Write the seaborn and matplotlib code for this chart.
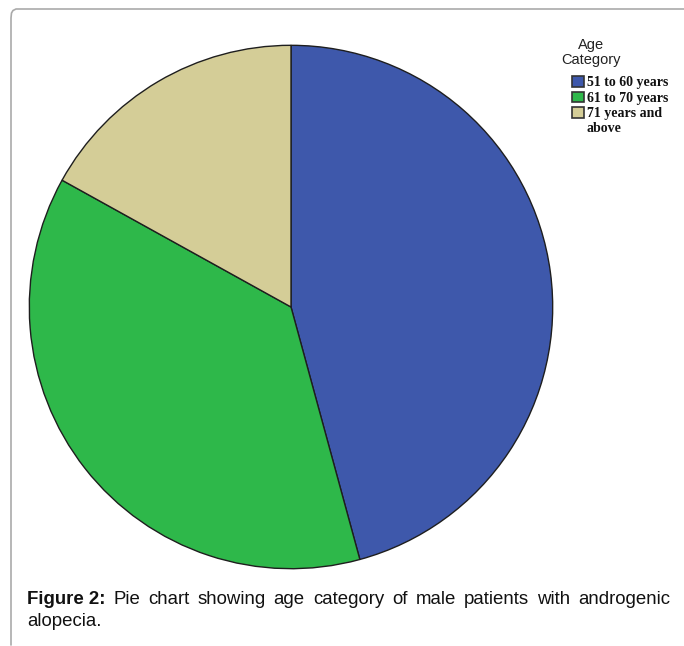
import matplotlib
matplotlib.use("Agg")
import matplotlib.pyplot as plt
import seaborn as sns
from matplotlib.lines import Line2D

# Age distribution of male patients (counts)
categories = ["51 to 60 years", "61 to 70 years", "71 years and\nabove"]
counts = [27, 22, 10]
colors = ["#3e58ab", "#2eb84a", "#d4cd97"]

legend_title = ["Age", "Category"]
caption_bold = "Figure 2:"
caption_line1 = "Pie chart showing age category of male patients with androgenic"
caption_line2 = "alopecia."

sns.set_theme(style="white")
plt.rcParams["font.family"] = ["Liberation Sans", "DejaVu Sans"]

W, H = 684, 646
fig = plt.figure(figsize=(W / 100, H / 100), dpi=100)
fig.patch.set_facecolor("white")

# Pie axes: centre (291, 307), radius 263 px
cx, cy, r = 291, 307, 263
ax = fig.add_axes([(cx - r) / W, (H - cy - r) / H, 2 * r / W, 2 * r / H])
wedges, _ = ax.pie(counts, colors=colors, startangle=90, counterclock=False,
                   radius=1.0,
                   wedgeprops=dict(edgecolor="#1e1e1e", linewidth=1.0))
ax.set_xlim(-1.005, 1.005)
ax.set_ylim(-1.005, 1.005)
ax.set_aspect("equal")
ax.axis("off")

# Legend title (two centred lines)
for line, ypx in zip(legend_title, [45, 60]):
    fig.text(591 / W, 1 - ypx / H, line, ha="center", va="center",
             fontsize=10.5, color="#222222", family="Liberation Sans")

# Legend entries: handle sits beside the first line of each label,
# wrapped continuation lines are placed underneath
first_lines = [c.split("\n")[0] for c in categories]
leg_font = dict(family="Liberation Serif", weight="bold", size=10)
leg = fig.legend(wedges, first_lines, loc="upper left",
                 bbox_to_anchor=(565 / W, 1 - 69 / H),
                 frameon=False, handlelength=0.85, handleheight=0.8,
                 handletextpad=0.2, labelspacing=0.18, borderpad=0,
                 prop=leg_font)
for t in leg.get_texts():
    t.set_color("#111111")
for h in leg.legend_handles:
    h.set_edgecolor("#333333")
    h.set_linewidth(1.2)

fig.canvas.draw()
renderer = fig.canvas.get_renderer()
for cat, t in zip(categories, leg.get_texts()):
    rest = cat.split("\n")[1:]
    bb = t.get_window_extent(renderer)
    for k, extra in enumerate(rest, start=1):
        fig.text(bb.x0, bb.y0 - 15.5 * k + 1, extra, transform=None,
                 va="bottom", ha="left", color="#111111", **leg_font)

# Caption, first line justified between the margins
cap_kw = dict(fontsize=13.4, color="#111111", va="baseline",
              family="Liberation Sans")
x0, x1 = 27, 670
y1 = H - 604
y2 = H - 626
words = [(caption_bold, "bold")] + [(w, "normal") for w in caption_line1.split()]
texts = []
total = 0
for w, wt in words:
    t = fig.text(0, 0, w, fontweight=wt, transform=None, **cap_kw)
    bb = t.get_window_extent(renderer)
    texts.append((t, bb.width))
    total += bb.width
gap = (x1 - x0 - total) / (len(words) - 1)
x = x0
for t, wdt in texts:
    t.set_position((x, y1))
    x += wdt + gap
fig.text(x0, y2, caption_line2, transform=None, **cap_kw)

# Rounded frame (top and left edges)
frame = Line2D([11, 11, 11.5, 13, 16, 700],
               [H - 645, H - 18, H - 13, H - 10.5, H - 9, H - 9],
               transform=None, color="#aaaaaa", linewidth=1.2)
fig.add_artist(frame)

fig.savefig("out.png", dpi=100, facecolor="white")
